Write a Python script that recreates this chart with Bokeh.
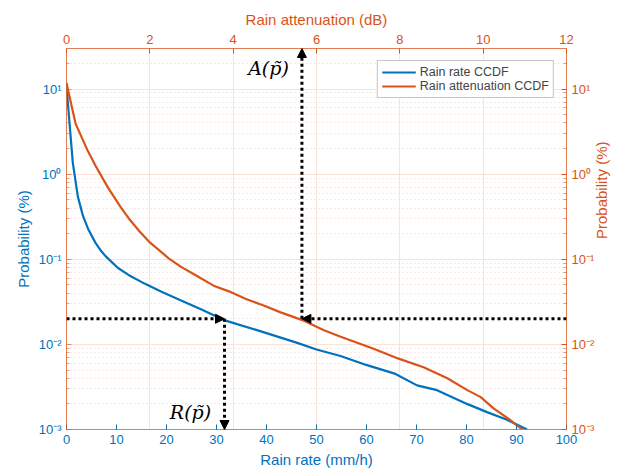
import math
from bokeh.plotting import figure
from bokeh.models import (Range1d, LinearAxis, LogAxis, FixedTicker, Arrow,
                          NormalHead, Label)
from bokeh.embed import file_html
from bokeh.resources import INLINE

# ---- data ----
rain_rate = [0, 0.15, 0.6, 1.27, 2.27, 3.3, 4.3, 5.8, 6.9, 7.8, 10.3, 12.4,
             15.6, 19, 22.8, 27, 31.5, 38.1, 46, 50, 54.8, 60.1, 65.8, 70.1,
             74.1, 80.1, 84.1, 88.1, 92.1]
rain_rate_prob = [11.8, 8.5, 4.0, 1.35, 0.545, 0.323, 0.229, 0.156, 0.126,
                  0.109, 0.079, 0.0655, 0.0518, 0.0416, 0.0331, 0.0257,
                  0.0193, 0.0147, 0.0105, 0.0087, 0.0073, 0.0057, 0.0045,
                  0.0033, 0.0029, 0.0020, 0.0016, 0.0013, 0.001]
atten_db = [0, 0.22, 0.5, 0.7, 1.0, 1.3, 1.5, 1.75, 2.0, 2.46, 2.74, 3.1,
            3.53, 3.9, 4.32, 4.7, 5.14, 5.66, 6.18, 6.58, 7.37, 7.97, 8.57,
            9.14, 9.62, 9.94, 10.25, 10.66, 10.94]
atten_prob = [11.8, 3.9, 1.93, 1.25, 0.69, 0.41, 0.30, 0.214, 0.158, 0.102,
              0.082, 0.065, 0.049, 0.042, 0.034, 0.029, 0.0238, 0.0193,
              0.0147, 0.0123, 0.0089, 0.0068, 0.0054, 0.0040, 0.0029, 0.0024,
              0.00177, 0.00128, 0.001]
p_tilde = 0.02
R_p_tilde = 31.6
A_p_tilde = 5.65

x_ticks = [0, 10, 20, 30, 40, 50, 60, 70, 80, 90, 100]
db_ticks = [0, 2, 4, 6, 8, 10, 12]
y_ticks = [1e-3, 1e-2, 1e-1, 1, 10]
y_tick_labels = ["10\u207b\u00b3", "10\u207b\u00b2", "10\u207b\u00b9", "10\u2070", "10\u00b9"]

BLUE = "#0072BD"
ORANGE = "#D95319"
FONT = "Liberation Sans"
MATH_FONT = "DejaVu Serif"

x_max = 100
db_max = 12
y_min, y_max = 1e-3, 30

minor_y = [m * t for t in y_ticks for m in range(2, 10) if m * t < y_max]
overrides = {t: l for t, l in zip(y_ticks, y_tick_labels)}

p = figure(width=629, height=471, x_range=Range1d(0, x_max),
           y_range=Range1d(y_min, y_max), y_axis_type="log",
           output_backend="svg", toolbar_location=None,
           min_border_left=66, min_border_right=63, min_border_top=48,
           min_border_bottom=42, background_fill_color="white",
           border_fill_color="white")
p.outline_line_color = None
p.extra_x_ranges = {"db": Range1d(0, db_max)}

# bottom axis
xa = p.below[0]
xa.ticker = FixedTicker(ticks=x_ticks)
xa.axis_label = "Rain rate (mm/h)"

# left axis
ya = p.left[0]
ya.ticker = FixedTicker(ticks=y_ticks, minor_ticks=minor_y)
ya.major_label_overrides = overrides
ya.axis_label = "Probability (%)"

# top axis
top_axis = LinearAxis(x_range_name="db", ticker=FixedTicker(ticks=db_ticks),
                      axis_label="Rain attenuation (dB)")
p.add_layout(top_axis, "above")

# right axis
right_axis = LogAxis(ticker=FixedTicker(ticks=y_ticks, minor_ticks=minor_y),
                     major_label_overrides=overrides,
                     axis_label="Probability (%)",
                     axis_label_orientation=math.pi / 2)
p.add_layout(right_axis, "right")

for ax, col in [(xa, BLUE), (ya, BLUE), (top_axis, ORANGE), (right_axis, ORANGE)]:
    ax.axis_line_color = ORANGE
    ax.axis_line_alpha = 0.75
    ax.major_label_text_color = col
    ax.axis_label_text_color = col
    ax.major_label_text_font = FONT
    ax.axis_label_text_font = FONT
    ax.major_label_text_font_size = "13px"
    ax.axis_label_text_font_size = "15px"
    ax.axis_label_text_font_style = "normal"
    ax.major_tick_in = 5
    ax.major_tick_out = 0
    ax.minor_tick_in = 3
    ax.minor_tick_out = 0
    ax.major_label_standoff = 5
    ax.axis_label_standoff = 4

xa.major_tick_line_color = BLUE
xa.minor_tick_line_color = None
top_axis.major_tick_line_color = ORANGE
top_axis.minor_tick_line_color = None
ya.major_tick_line_color = ORANGE
ya.major_tick_line_alpha = 0.6
ya.minor_tick_line_color = ORANGE
ya.minor_tick_line_alpha = 0.5
right_axis.major_tick_line_color = ORANGE
right_axis.minor_tick_line_color = ORANGE
right_axis.minor_tick_line_alpha = 0.6

# grids (from the attenuation axes)
p.xgrid.ticker = FixedTicker(ticks=[t * x_max / db_max for t in db_ticks])
p.xgrid.grid_line_color = "#F8E2D9"
p.ygrid.ticker = ya.ticker
p.ygrid.grid_line_color = "#F8E2D9"
p.ygrid.minor_grid_line_color = "#F3D3C6"
p.ygrid.minor_grid_line_dash = "1 3"

r1 = p.line(rain_rate, rain_rate_prob, color=BLUE, line_width=2.2,
            legend_label="Rain rate CCDF")
r2 = p.line(atten_db, atten_prob, color=ORANGE, line_width=2.2,
            x_range_name="db", legend_label="Rain attenuation CCDF")

lg = p.legend[0]
lg.location = "top_right"
lg.margin = 12
lg.padding = 4
lg.spacing = 0
lg.label_text_font = FONT
lg.label_text_font_size = "12.5px"
lg.label_height = 14
lg.glyph_height = 14
lg.glyph_width = 34
lg.label_standoff = 4
lg.border_line_color = "#8c8c8c"
lg.border_line_width = 1
lg.background_fill_alpha = 1.0

# dotted arrows
def head():
    return NormalHead(size=9, fill_color="black", line_color="black")

arrow_style = dict(line_color="black", line_width=3, line_dash="3 3")
p.add_layout(Arrow(end=head(), x_start=0, y_start=p_tilde, x_end=R_p_tilde,
                   y_end=p_tilde, **arrow_style))
p.add_layout(Arrow(end=head(), x_start=R_p_tilde, y_start=p_tilde,
                   x_end=R_p_tilde, y_end=y_min, **arrow_style))
p.add_layout(Arrow(end=head(), x_start=db_max, y_start=p_tilde,
                   x_end=A_p_tilde, y_end=p_tilde, x_range_name="db",
                   **arrow_style))
p.add_layout(Arrow(end=head(), x_start=A_p_tilde, y_start=p_tilde,
                   x_end=A_p_tilde, y_end=y_max, x_range_name="db",
                   **arrow_style))

math_style = dict(text_font=MATH_FONT, text_font_style="italic",
                  text_font_size="19px", text_color="black",
                  text_align="center", text_baseline="middle")
p.add_layout(Label(x=-3.8, y=p_tilde, text="p\u0303", **math_style))
p.add_layout(Label(x=102.6, y=p_tilde, text="p\u0303", **math_style))
p.add_layout(Label(x=24.8, y=0.0016, text="R(p\u0303)", **math_style))
p.add_layout(Label(x=40.4, y=17.8, text="A(p\u0303)", **math_style))

open("out.html", "w").write(file_html(p, INLINE))
